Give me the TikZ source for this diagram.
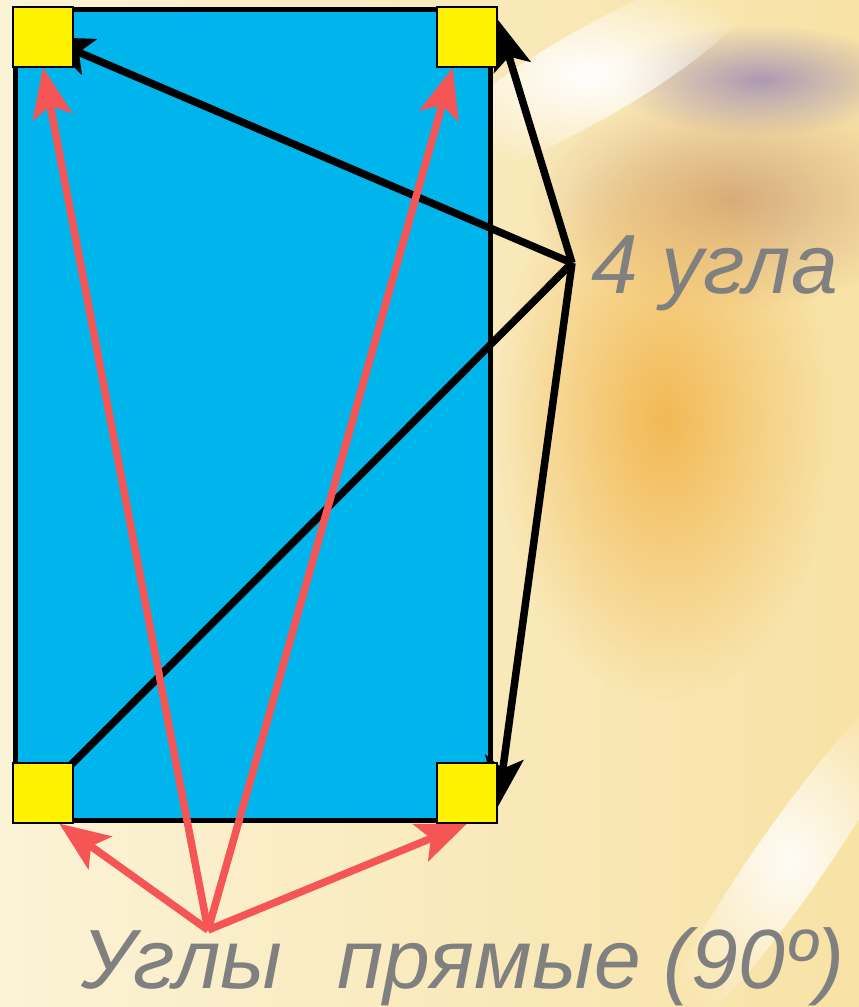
\documentclass[tikz,border=0pt]{standalone}
\usepackage{fontspec}
\setmainfont{Liberation Sans}
\usetikzlibrary{arrows.meta,fadings}
\pgfdeclarelayer{sfondo}
\pgfdeclarelayer{frecce}
\pgfsetlayers{sfondo,frecce,main}

\definecolor{azzurro}{RGB}{0,181,236}
\definecolor{rossoChiaro}{RGB}{245,85,85}
\definecolor{crema}{RGB}{251,243,214}
\definecolor{paglia}{RGB}{248,226,165}
\definecolor{arancio}{RGB}{242,185,85}
\definecolor{lilla}{RGB}{165,145,180}
\definecolor{bruno}{RGB}{210,165,120}
\tikzfading[name=sfumaFuori, inner color=transparent!0, outer color=transparent!100]

\begin{document}
\begin{tikzpicture}[x=1pt,y=-1pt,
    angolo/.style={draw=black, line width=1.2pt, fill=\colorAngolo, minimum size=60pt, inner sep=0pt},
    frecciaNera/.style={draw=black, line width=7.5pt, -{Stealth[length=50pt,width=38pt,inset=11pt]}},
    frecciaRossa/.style={draw=\colorRosso, line width=7.5pt, -{Stealth[length=50pt,width=40pt,inset=11pt]}},
    testo/.style={text=\colorTesto, font=\fontsize{84}{96}\selectfont\itshape, inner sep=0pt, anchor=base west}]
    % Definizione colori
    \def\colorRettangolo{azzurro}
    \def\colorAngolo{yellow}
    \def\colorRosso{rossoChiaro}
    \def\colorTesto{gray}

    \useasboundingbox (0,0) rectangle (859,1007);

    % Sfondo sfumato
    \begin{pgfonlayer}{sfondo}
        \shade[left color=crema, right color=paglia] (0,0) rectangle (859,1007);
        \fill[bruno, path fading=sfumaFuori, fill opacity=0.9] (730,200) ellipse (200pt and 110pt);
        \fill[arancio, path fading=sfumaFuori, fill opacity=1] (665,420) ellipse (170pt and 280pt);
        \fill[lilla, path fading=sfumaFuori, fill opacity=0.9] (760,80) ellipse (150pt and 55pt);
        \fill[white, path fading=sfumaFuori, fill opacity=1, rotate around={30:(590,75)}] (590,75) ellipse (200pt and 45pt);
        \fill[white, path fading=sfumaFuori, fill opacity=0.9, rotate around={55:(790,860)}] (790,860) ellipse (230pt and 35pt);

        % Rettangolo
        \filldraw[fill=\colorRettangolo, draw=black, line width=5pt] (15,9) rectangle (490,820);
    \end{pgfonlayer}

    % Angoli
    \node[angolo] (angoloAltoSx) at (43,37) {};
    \node[angolo] (angoloAltoDx) at (467,37) {};
    \node[angolo] (angoloBassoSx) at (43,793) {};
    \node[angolo] (angoloBassoDx) at (467,793) {};

    % Etichette
    \node[testo] (etichettaAngoli) at (591,293) {4 угла};
    \node[testo] (etichettaRetti) at (81,988) {Углы\hspace{55pt}прямые (90º)};

    \coordinate (fonteNero) at (572,263);
    \coordinate (fonteRosso) at (208,930);

    % Frecce
    \begin{pgfonlayer}{frecce}
        \draw[frecciaNera] (fonteNero) -- (angoloAltoSx.center);
        \draw[frecciaNera] (fonteNero) -- (angoloAltoDx.30);
        \draw[frecciaNera] (fonteNero) -- (angoloBassoSx.south west);
        \draw[frecciaNera] (fonteNero) -- (angoloBassoDx.-25);

        \draw[frecciaRossa] (fonteRosso) -- (angoloAltoSx.south);
        \draw[frecciaRossa] (fonteRosso) -- (angoloAltoDx.-115);
        \draw[frecciaRossa] (fonteRosso) -- (angoloBassoSx.-62);
        \draw[frecciaRossa] (fonteRosso) -- (angoloBassoDx.south);
    \end{pgfonlayer}

\end{tikzpicture}
\end{document}
